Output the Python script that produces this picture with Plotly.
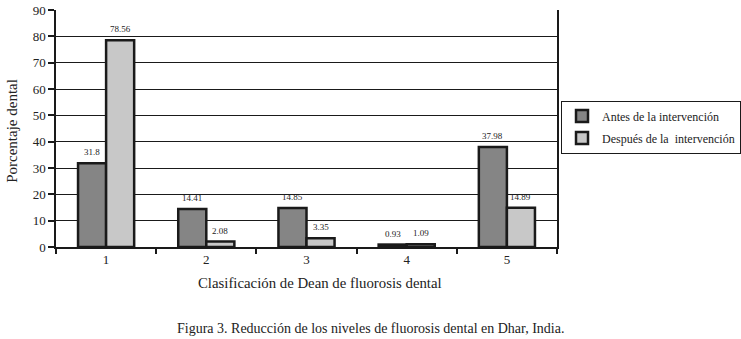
import plotly.graph_objects as go

categories = [1, 2, 3, 4, 5]
antes = [31.8, 14.41, 14.85, 0.93, 37.98]
despues = [78.56, 2.08, 3.35, 1.09, 14.89]
series_names = ["Antes de la intervención", "Después de la  intervención"]
y_ticks = [0, 10, 20, 30, 40, 50, 60, 70, 80, 90]

FONT = "Liberation Serif, DejaVu Serif, serif"
DARK = "#858585"
LIGHT = "#c8c8c8"
INK = "#1a1a1a"

fig = go.Figure()
fig.add_trace(go.Bar(x=categories, y=antes, name=series_names[0], legendgroup="a",
                     marker=dict(color=DARK, line=dict(color=INK, width=2.5))))
fig.add_trace(go.Bar(x=categories, y=despues, name=series_names[1], legendgroup="b",
                     marker=dict(color=LIGHT, line=dict(color=INK, width=2.5))))

# invisible trace on secondary x axis to draw boundary tick marks
fig.add_trace(go.Scatter(x=[0.5, 5.5], y=[0, 0], xaxis="x2", mode="lines",
                         line=dict(width=0), showlegend=False, hoverinfo="skip"))

annotations = []
for c, a, d in zip(categories, antes, despues):
    annotations.append(dict(x=c, y=a, xref="x", yref="y", text=f"{a:g}", showarrow=False,
                            xshift=-14, yshift=11, font=dict(family=FONT, size=9, color="#222")))
    annotations.append(dict(x=c, y=d, xref="x", yref="y", text=f"{d:g}", showarrow=False,
                            xshift=14, yshift=11, font=dict(family=FONT, size=9, color="#222")))

annotations.append(dict(text="Porcentaje dental", textangle=-90, xref="paper", yref="paper",
                        x=-0.088, y=0.49, xanchor="center", yanchor="middle", showarrow=False,
                        font=dict(family=FONT, size=15, color="#222")))
annotations.append(dict(text="Clasificación de Dean de fluorosis dental", xref="paper", yref="paper",
                        x=0.527, y=-0.154, xanchor="center", yanchor="middle", showarrow=False,
                        font=dict(family=FONT, size=14.8, color="#222")))
annotations.append(dict(text="Figura 3. Reducción de los niveles de fluorosis dental en Dhar, India.",
                        xref="paper", yref="paper", x=0.627, y=-0.342, xanchor="center",
                        yanchor="middle", showarrow=False,
                        font=dict(family=FONT, size=14, color="#222")))

fig.update_layout(
    template="none",
    width=741, height=339,
    margin=dict(l=56, r=184, t=10, b=92, autoexpand=False),
    paper_bgcolor="white", plot_bgcolor="white",
    barmode="group", bargap=0.44, bargroupgap=0,
    font=dict(family=FONT, size=11, color="#222"),
    showlegend=True,
    legend=dict(x=1.008, y=0.618, xanchor="left", yanchor="top",
                bordercolor=INK, borderwidth=1,
                font=dict(family=FONT, size=12, color="#222"),
                tracegroupgap=3, itemwidth=30),
    xaxis=dict(range=[0.5, 5.5], tickvals=categories, ticktext=[str(c) for c in categories],
               ticks="", showline=True, linecolor=INK, linewidth=1.5, automargin=False,
               showgrid=False, zeroline=False, tickfont=dict(family=FONT, size=13, color="#222")),
    xaxis2=dict(range=[0.5, 5.5], overlaying="x", anchor="y", side="bottom",
                tickvals=[0.5, 1.5, 2.5, 3.5, 4.5, 5.5], showticklabels=False, automargin=False,
                ticks="outside", ticklen=6, tickcolor=INK, tickwidth=1.5,
                showgrid=False, zeroline=False, showline=False),
    yaxis=dict(range=[0, 90], tickvals=y_ticks, ticks="outside", ticklen=6, automargin=False,
               tickcolor=INK, tickwidth=1.5, showline=True, linecolor=INK,
               linewidth=1.5, mirror=True, showgrid=True, gridcolor=INK,
               gridwidth=1.2, zeroline=False, tickfont=dict(family=FONT, size=13, color="#222")),
    annotations=annotations,
)

fig.write_html("out.html", config={"displayModeBar": False},
               post_script="document.body.style.margin='0px';")
